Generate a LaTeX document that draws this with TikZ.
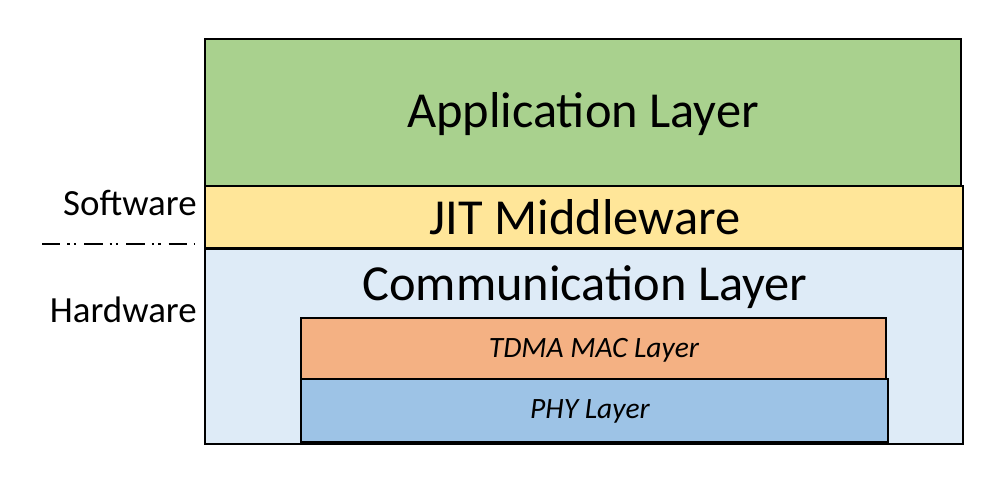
\documentclass[tikz,border=0pt]{standalone}
\usepackage{fontspec}
\setmainfont{Carlito}
\usepackage{tikz}
\usetikzlibrary{positioning}

\definecolor{appgreen}{HTML}{A9D18E}
\definecolor{jityellow}{HTML}{FFE699}
\definecolor{commblue}{HTML}{DEEBF7}
\definecolor{macorange}{HTML}{F4B183}
\definecolor{phyblue}{HTML}{9DC3E6}

\tikzset{
  layerbox/.style={draw=black, line width=0.9pt},
  bigtext/.style={font=\fontsize{28.7}{32}\selectfont},
  sidetext/.style={font=\fontsize{21}{25}\selectfont, anchor=east, inner sep=0pt},
  smalltext/.style={font=\fontsize{16.8}{20}\selectfont\itshape},
}

\begin{document}
\begin{tikzpicture}[x=0.02cm, y=-0.02cm]
  \useasboundingbox (0,0) rectangle (1002,482);

  % Draw the layers
  \filldraw[layerbox, fill=appgreen] (205,39) rectangle (961,186);
  \filldraw[layerbox, fill=jityellow] (205,186) rectangle (963,248);
  \filldraw[layerbox, fill=commblue] (205,249) rectangle (963,444);
  \filldraw[layerbox, fill=macorange] (301,318) rectangle (886,379);
  \filldraw[layerbox, fill=phyblue] (301,379) rectangle (888,442);

  % Label the layers
  \node[bigtext] (app) at (583,114) {Application Layer};
  \node[bigtext] (jit) at (585,217) {JIT Middleware};
  \node[bigtext] (comm) at (585,287) {Communication Layer};
  \node[smalltext] (mac) at (594,350) {TDMA MAC Layer};
  \node[smalltext] (phy) at (590,411) {PHY Layer};

  % Software / hardware split
  \node[sidetext] (sw) at (197,203) {Software};
  \node[sidetext] (hw) at (197,310) {Hardware};
  \coordinate (splitL) at (42,244);
  \coordinate (splitR) at (194,244);
  \draw[line width=0.9pt, dash pattern=on 10.5pt off 4pt on 1.4pt off 2.2pt on 1.4pt off 4.5pt] (splitL) -- (splitR);
\end{tikzpicture}
\end{document}
